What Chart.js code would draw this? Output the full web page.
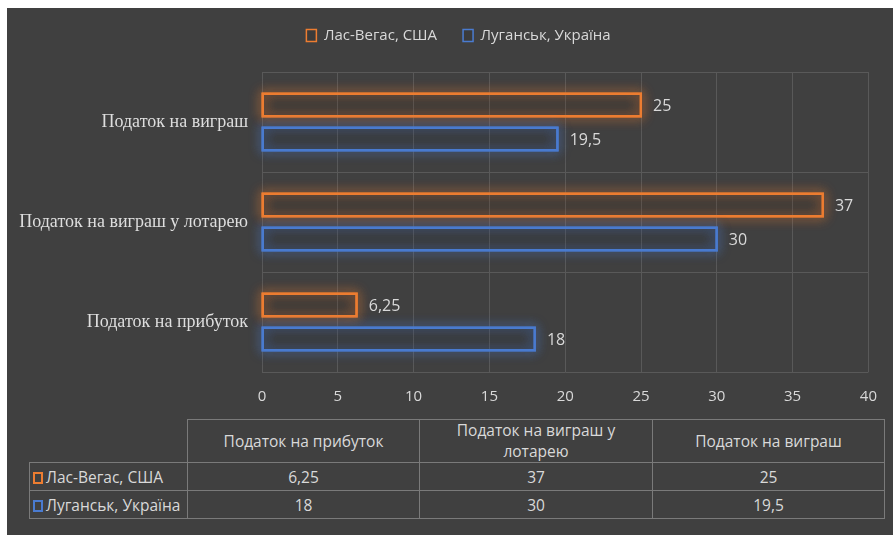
<!DOCTYPE html>
<html>
<head>
<meta charset="utf-8">
<script src="https://cdn.jsdelivr.net/npm/chart.js@4"></script>
<style>
  html, body { margin: 0; padding: 0; background: #ffffff; }
  #frame {
    position: absolute; left: 7px; top: 8px; width: 886px; height: 527px;
    background: #404040; overflow: hidden;
  }
  #chart-box { position: absolute; left: 0; top: 0; width: 886px; height: 405px; }
  #data-table {
    position: absolute; left: 22px; top: 411px;
    border-collapse: collapse; table-layout: fixed;
    font-family: "Open Sans", sans-serif; font-size: 15.5px; color: #d9d9d9;
  }
  #data-table td {
    border: 1px solid #7a7a7a; text-align: center; padding: 0 4px;
    line-height: 18px;
  }
  #data-table tr.head td { height: 42px; line-height: 21px; }
  #data-table tr.row td { height: 27px; }
  #data-table td.blank { border: none; }
  #data-table td.name { text-align: left; padding: 0 1px 0 3px; white-space: nowrap; }
  .key {
    display: inline-block; width: 10px; height: 12px; margin-right: 3px;
    vertical-align: -1px; box-sizing: border-box;
  }
</style>
</head>
<body>
<div id="frame">
  <div id="chart-box"><canvas id="tax-chart"></canvas></div>
  <table id="data-table"></table>
</div>
<script>
// categories as in the data table (Excel draws them bottom-up)
const categories = ["Податок на прибуток", "Податок на виграш у лотарею", "Податок на виграш"];
const seriesNames = ["Лас-Вегас, США", "Луганськ, Україна"];
const lasVegas = [6.25, 37, 25];
const luhansk = [18, 30, 19.5];
const xTicks = [0, 5, 10, 15, 20, 25, 30, 35, 40];

const orange = "#ED7D31";
const blue = "#4A7BD0";
const glowColors = ["rgba(237,125,49,0.9)", "rgba(74,123,208,0.9)"];

function fmt(v) {
  return String(v).replace(".", ",");
}

// extra room under the legend, and no clipping of the long category label
const layoutTweaks = {
  id: "layoutTweaks",
  beforeInit(chart) {
    const fit = chart.legend.fit;
    chart.legend.fit = function () {
      fit.call(this);
      this.height += 19;
    };
  },
  afterLayout(chart) {
    chart.scales.y.left = 0;
  }
};

// glow round each bar, drawn before the crisp border
const glowPlugin = {
  id: "glow",
  beforeDatasetsDraw(chart) {
    const ctx = chart.ctx;
    chart.data.datasets.forEach((ds, i) => {
      const meta = chart.getDatasetMeta(i);
      meta.data.forEach((bar) => {
        const p = bar.getProps(["x", "y", "base", "height"], true);
        const left = Math.min(p.base, p.x);
        const w = Math.abs(p.x - p.base);
        ctx.save();
        ctx.shadowColor = glowColors[i];
        ctx.shadowBlur = 12;
        ctx.strokeStyle = glowColors[i];
        ctx.lineWidth = 2;
        ctx.strokeRect(left, p.y - p.height / 2, w, p.height);
        ctx.strokeRect(left, p.y - p.height / 2, w, p.height);
        ctx.restore();
      });
    });
  }
};

// value labels at the bar ends
const valueLabels = {
  id: "valueLabels",
  afterDatasetsDraw(chart) {
    const ctx = chart.ctx;
    ctx.save();
    ctx.font = '16px "Open Sans", sans-serif';
    ctx.fillStyle = "#d9d9d9";
    ctx.textBaseline = "middle";
    ctx.textAlign = "left";
    chart.data.datasets.forEach((ds, i) => {
      const meta = chart.getDatasetMeta(i);
      meta.data.forEach((bar, j) => {
        ctx.fillText(fmt(ds.data[j]), bar.x + 12, bar.y + 1);
      });
    });
    ctx.restore();
  }
};

function initChart() {
  const canvas = document.getElementById("tax-chart");
  const labels = categories.slice().reverse();

  new Chart(canvas, {
    type: "bar",
    data: {
      labels: labels,
      datasets: [
        {
          label: seriesNames[0],
          data: lasVegas.slice().reverse(),
          backgroundColor: "rgba(0,0,0,0.08)",
          borderColor: orange,
          borderWidth: 1.5,
          borderSkipped: false
        },
        {
          label: seriesNames[1],
          data: luhansk.slice().reverse(),
          backgroundColor: "rgba(0,0,0,0.08)",
          borderColor: blue,
          borderWidth: 1.5,
          borderSkipped: false
        }
      ]
    },
    options: {
      indexAxis: "y",
      responsive: true,
      maintainAspectRatio: false,
      animation: false,
      categoryPercentage: 0.68,
      barPercentage: 0.676,
      layout: { padding: { top: -6, right: 17, left: 34, bottom: 0 } },
      plugins: {
        legend: {
          position: "top",
          labels: {
            color: "#d9d9d9",
            font: { family: "Open Sans", size: 15 },
            boxWidth: 10,
            boxHeight: 12,
            padding: 26
          }
        },
        tooltip: { enabled: false }
      },
      scales: {
        x: {
          min: 0,
          max: 40,
          afterBuildTicks: (scale) => {
            scale.ticks = xTicks.map((v) => ({ value: v }));
          },
          afterFit: (scale) => { scale.height = 41; },
          grid: { color: "#595959", drawTicks: false },
          border: { display: false },
          ticks: {
            color: "#d9d9d9",
            font: { family: "Open Sans", size: 15 },
            padding: 16
          }
        },
        y: {
          afterFit: (scale) => { scale.width = 221; },
          grid: { color: "#595959", drawTicks: false, offset: true },
          border: { display: false },
          ticks: {
            color: "#dedede",
            font: { family: "Liberation Serif", size: 18 },
            padding: 14
          }
        }
      }
    },
    plugins: [layoutTweaks, glowPlugin, valueLabels]
  });
}

function buildTable() {
  const table = document.getElementById("data-table");
  const colors = [orange, blue];
  const series = [lasVegas, luhansk];
  let html = `<colgroup><col style="width:158px"><col style="width:232px"><col style="width:233px"><col style="width:232px"></colgroup>`;
  html += `<tr class="head"><td class="blank"></td>`;
  categories.forEach((c) => {
    const text = c === "Податок на виграш у лотарею" ? "Податок на виграш у<br>лотарею" : c;
    html += `<td>${text}</td>`;
  });
  html += `</tr>`;
  seriesNames.forEach((name, i) => {
    html += `<tr class="row"><td class="name"><span class="key" style="border:2px solid ${colors[i]}"></span>${name}</td>`;
    series[i].forEach((v) => { html += `<td>${fmt(v)}</td>`; });
    html += `</tr>`;
  });
  table.innerHTML = html;
}

initChart();
buildTable();
</script>
</body>
</html>
